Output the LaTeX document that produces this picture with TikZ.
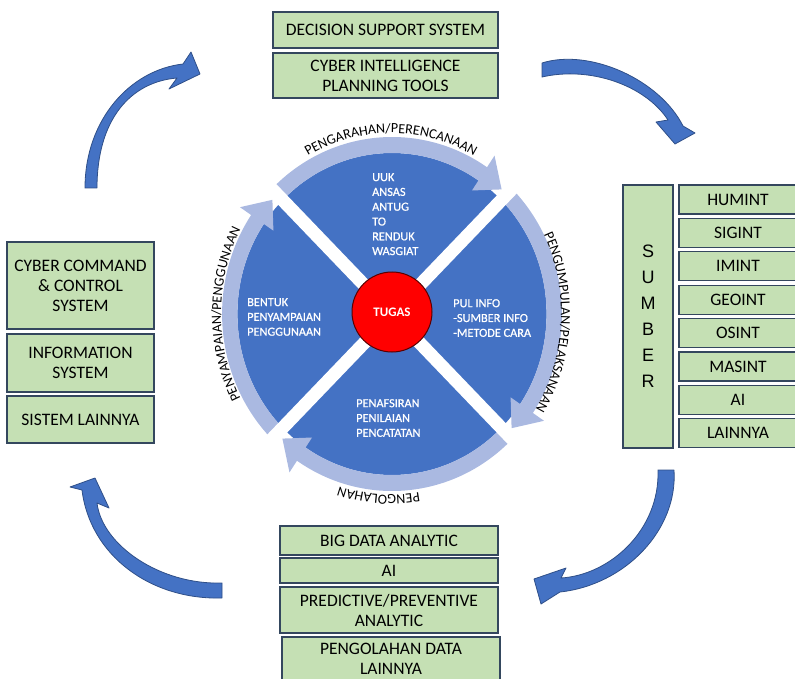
\documentclass[tikz,border=0pt]{standalone}
\usepackage{fontspec}
\setmainfont{Carlito}
\newfontfamily\arialf{Liberation Sans}
\newfontfamily\semibf[FakeBold=0.7]{Carlito}
\newfontfamily\spacedf[LetterSpace=6]{Carlito}
\usetikzlibrary{decorations.text}
\definecolor{gfill}{HTML}{C5E0B4}
\definecolor{gbord}{HTML}{34475E}
\definecolor{qblue}{HTML}{4472C4}
\definecolor{ringc}{HTML}{AAB9E1}
\definecolor{arrbord}{HTML}{2F4F88}
\definecolor{tugasred}{HTML}{FF0000}
\definecolor{tugasbord}{HTML}{5A0000}
\begin{document}
\begin{tikzpicture}[x=1pt,y=1pt,
  gbox/.style={draw=gbord, fill=gfill, line width=1.3pt, inner sep=0pt, align=center,
    font=\fontsize{17.5}{20}\selectfont},
  intext/.style={text=white, inner sep=0pt, align=left, anchor=north west,
    font=\semibf\fontsize{12.3}{14.8}\selectfont},
  blockarrow/.style={fill=qblue, draw=arrbord, line width=0.8pt, line join=round},
  ringlabel/.style={decorate, decoration={text along path, text align=center,
    text={|\spacedf\fontsize{14}{14}\selectfont|#1}}}]
\useasboundingbox (0,0) rectangle (795,-679);

% top boxes
\node[gbox, minimum width=225, minimum height=36] (dss) at (385.5,-30) {DECISION SUPPORT SYSTEM};
\node[gbox, minimum width=225, minimum height=45] (cipt) at (385.5,-75.5) {CYBER INTELLIGENCE\\PLANNING TOOLS};

% left boxes
\node[gbox, minimum width=147, minimum height=87] (ccs) at (80.5,-285.5) {CYBER COMMAND\\\& CONTROL\\SYSTEM};
\node[gbox, minimum width=147, minimum height=58] (infs) at (80.5,-363) {INFORMATION\\SYSTEM};
\node[gbox, minimum width=147, minimum height=47] (sisl) at (80.5,-419.5) {SISTEM LAINNYA};

% right boxes
\node[gbox, minimum width=50, minimum height=263, font=\arialf\fontsize{18}{26}\selectfont] (sumber) at (648,-316.5) {S\\U\\M\\B\\E\\R};
\foreach \lab [count=\i from 0] in {HUMINT,SIGINT,IMINT,GEOINT,OSINT,MASINT,AI,LAINNYA}{
  \node[gbox, minimum width=118, minimum height=29] (src\i) at (738,{-(199.5+33.4*\i)}) {\lab};
}

% bottom boxes
\node[gbox, minimum width=218, minimum height=29] (bda) at (389,-540.5) {BIG DATA ANALYTIC};
\node[gbox, minimum width=218, minimum height=25] (aib) at (389,-570.5) {AI};
\node[gbox, minimum width=218, minimum height=46] (pred) at (389,-610) {PREDICTIVE/PREVENTIVE\\ANALYTIC};
\node[gbox, minimum width=218, minimum height=43] (pdl) at (391,-658.5) {PENGOLAHAN DATA\\LAINNYA};

% circle
\begin{scope}[shift={(392,-314)}, xscale=0.96]
  \fill[qblue] (0,0) circle[radius=161];
  \foreach \k in {0,1,2,3}{
    \pgfmathsetmacro\s{135-90*\k}
    \pgfmathsetmacro\h{56-90*\k}
    \pgfmathsetmacro\t{47.5-90*\k}
    \fill[ringc] (\s:177) arc[start angle=\s, end angle=\h, radius=177]
      -- (\h:191) -- (\t:169) -- (\h:149) -- (\h:161)
      arc[start angle=\h, end angle=\s, radius=161] -- cycle;
  }
  \draw[white, line width=13pt] (135:200) -- (-45:200);
  \draw[white, line width=13pt] (45:200) -- (-135:200);
\end{scope}

\node[circle, fill=tugasred, draw=tugasbord, line width=1pt, minimum size=80, inner sep=0pt,
  text=white, font=\bfseries\fontsize{13}{15}\selectfont] (tugas) at (392,-312) {TUGAS};

\node[intext] (q1) at (372,-173) {UUK\\ANSAS\\ANTUG\\TO\\RENDUK\\WASGIAT};
\node[intext] (q4) at (247,-298) {BENTUK\\PENYAMPAIAN\\PENGGUNAAN};
\node[intext] (q2) at (453,-299) {PUL INFO\\-SUMBER INFO\\-METODE CARA};
\node[intext] (q3) at (356,-399) {PENAFSIRAN\\PENILAIAN\\PENCATATAN};

% labels along the ring
\begin{scope}[shift={(391,-314)}]
  \path[ringlabel={PENGARAHAN/PERENCANAAN}]
    (150:170 and 181) arc[start angle=150, end angle=30, x radius=170, y radius=181];
  \path[ringlabel={PENGUMPULAN/PELAKSANAAN}]
    (45:170 and 181) arc[start angle=45, end angle=-51, x radius=170, y radius=181];
  \path[ringlabel={PENGOLAHAN}]
    (-45:170 and 181) arc[start angle=-45, end angle=-143, x radius=170, y radius=181];
  \path[ringlabel={PENYAMPAIAN/PENGGUNAAN}]
    (-135:170 and 181) arc[start angle=-135, end angle=-225, x radius=170, y radius=181];
\end{scope}

% curved block arrows
\filldraw[blockarrow] (85,-188) .. controls (85,-120) and (130,-70) .. (183,-64)
  -- (191,-52) -- (200,-74) -- (169,-89) -- (177,-78)
  .. controls (130,-82) and (97,-120) .. (97,-188) -- cycle;
\filldraw[blockarrow] (542,-63) .. controls (590,-48) and (660,-80) .. (683,-126)
  -- (695,-133) -- (675,-144) -- (656,-122) -- (668,-120)
  .. controls (645,-85) and (590,-66) .. (542,-77) -- cycle;
\filldraw[blockarrow] (674,-470) .. controls (678,-530) and (625,-585) .. (560,-592)
  -- (541,-604) -- (534,-579) -- (566,-568) -- (561,-578)
  .. controls (610,-575) and (660,-530) .. (658,-470) -- cycle;
\filldraw[blockarrow] (222,-598) .. controls (150,-600) and (90,-555) .. (82,-490)
  -- (70,-487) -- (95,-478) -- (109,-508) -- (97,-503)
  .. controls (102,-545) and (160,-585) .. (222,-583) -- cycle;
\end{tikzpicture}
\end{document}
